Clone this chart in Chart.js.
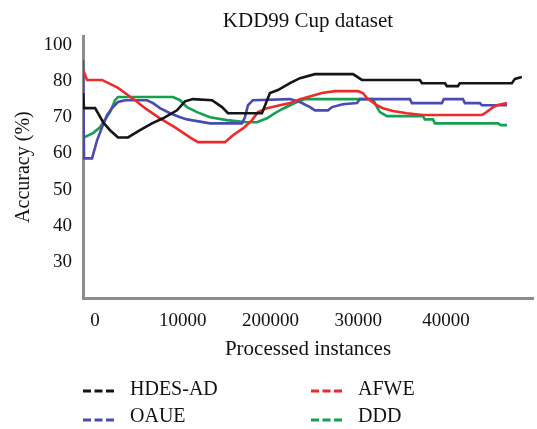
<!DOCTYPE html>
<html>
<head>
<meta charset="utf-8">
<script src="https://cdn.jsdelivr.net/npm/chart.js@4.4.1/dist/chart.umd.min.js"></script>
<style>
  html, body { margin: 0; padding: 0; background: #fff; }
  #chart { display: block; }
</style>
</head>
<body>
<canvas id="chart" width="537" height="429"></canvas>
<script>
// series
const seriesNames = ['HDES-AD', 'AFWE', 'OAUE', 'DDD'];
const seriesColors = ['#151515', '#ee2b2b', '#4a4ab2', '#14a050'];

// x axis ticks (the "200000" is how the original figure prints it)
const xTickValues = [0, 10000, 20000, 30000, 40000];
const xTickLabels = ['0', '10000', '200000', '30000', '40000'];

// y axis ticks: position on the axis -> printed label (top label reads 100)
const yTickValues = [30, 40, 50, 60, 70, 80, 90];
const yTickLabels = ['30', '40', '50', '60', '70', '80', '100'];

// HDES-AD
const hdesX = [-1370, -1250, 10, 920, 1710, 2620, 3760, 5130, 6490, 7750, 9340, 10250, 11160, 13330, 14470, 15150, 19020, 19930, 20840, 22210, 23350, 25060, 29390, 30410, 37010, 37250, 39860, 40090, 41340, 41570, 47490, 47840, 48630];
const hdesY = [76.7, 72.5, 72.5, 68.6, 66.4, 64.4, 64.4, 66.4, 68.3, 69.7, 71.9, 74.4, 75.0, 74.7, 72.8, 71.1, 71.1, 76.7, 77.5, 79.4, 80.8, 81.9, 81.9, 80.3, 80.3, 79.4, 79.4, 78.6, 78.6, 79.4, 79.4, 80.6, 81.1];

// AFWE
const afweX = [-1370, -910, 800, 1710, 2620, 3420, 4560, 5700, 7400, 9120, 10820, 11730, 14810, 15720, 16860, 17890, 18560, 19590, 21070, 22210, 23350, 24260, 25850, 27330, 29960, 30520, 30980, 32120, 32800, 33940, 35530, 37350, 44070, 44420, 45210, 45780, 46930];
const afweY = [83.1, 80.3, 80.3, 79.2, 78.1, 76.7, 74.7, 72.5, 69.7, 67.2, 64.4, 63.1, 63.1, 65.0, 66.9, 69.2, 71.4, 72.5, 73.3, 73.9, 75.0, 75.6, 76.7, 77.2, 77.2, 76.7, 75.3, 73.3, 72.5, 71.7, 71.1, 70.6, 70.6, 71.1, 72.5, 73.3, 73.9];

// OAUE
const oaueX = [-1370, -1250, -340, 230, 800, 1370, 1940, 2620, 3420, 5920, 6610, 7400, 8550, 9690, 10480, 13100, 16740, 17080, 17430, 17990, 22210, 23350, 24490, 25060, 26540, 27000, 28240, 29840, 30180, 35870, 36100, 39520, 39740, 41910, 42140, 43850, 44070, 46930];
const oaueY = [85.8, 58.6, 58.6, 63.6, 67.2, 70.6, 72.5, 74.2, 74.7, 74.7, 73.9, 72.5, 71.1, 70.0, 69.4, 68.3, 68.3, 70.0, 73.3, 74.7, 75.0, 74.2, 72.8, 71.9, 71.9, 72.8, 73.6, 73.9, 75.0, 75.0, 73.9, 73.9, 75.0, 75.0, 73.9, 73.9, 73.3, 73.3];

// DDD
const dddX = [-1370, -1250, -230, 570, 1710, 2280, 2620, 8880, 9690, 10480, 11620, 13100, 15030, 17320, 18450, 19590, 20500, 21300, 22210, 23010, 23920, 31660, 32120, 32460, 33260, 37350, 37590, 38500, 38730, 45900, 46240, 46930];
const dddY = [62.2, 64.4, 65.6, 67.2, 71.4, 74.7, 75.6, 75.6, 74.7, 72.8, 71.4, 70.0, 69.2, 68.6, 68.6, 69.7, 71.1, 72.2, 73.3, 74.2, 75.0, 75.0, 72.8, 71.4, 70.3, 70.3, 69.4, 69.4, 68.3, 68.3, 67.8, 67.8];

const allX = [hdesX, afweX, oaueX, dddX];
const allY = [hdesY, afweY, oaueY, dddY];

const FONT = '"Liberation Serif", "Times New Roman", serif';
const AXIS_GRAY = '#8e8e8e';

function toPoints(xs, ys) {
    return xs.map((x, i) => ({ x: x, y: ys[i] }));
}

const datasets = seriesNames.map((name, i) => ({
    label: name,
    data: toPoints(allX[i], allY[i]),
    borderColor: seriesColors[i],
    backgroundColor: seriesColors[i],
    borderWidth: 2.6,
    pointRadius: 0,
    tension: 0,
    fill: false
}));

// two-column key under the plot, drawn from the datasets
const keyCols = [{ dash: 83, text: 130 }, { dash: 311, text: 358 }];
const keyRows = [{ text: 390, dash: 391 }, { text: 417, dash: 420 }];

const seriesKey = {
    id: 'seriesKey',
    afterDraw(chart) {
        const ctx = chart.ctx;
        ctx.save();
        ctx.font = '20px ' + FONT;
        ctx.textBaseline = 'middle';
        ctx.textAlign = 'left';
        chart.data.datasets.forEach((ds, i) => {
            const col = keyCols[i % 2];
            const row = keyRows[Math.floor(i / 2)];
            ctx.strokeStyle = ds.borderColor;
            ctx.lineWidth = 3;
            ctx.setLineDash([8, 3.5]);
            ctx.beginPath();
            ctx.moveTo(col.dash, row.dash);
            ctx.lineTo(col.dash + 31, row.dash);
            ctx.stroke();
            ctx.setLineDash([]);
            ctx.fillStyle = '#111';
            ctx.fillText(ds.label, col.text, row.text);
        });
        ctx.restore();
    }
};

new Chart(document.getElementById('chart').getContext('2d'), {
    type: 'line',
    data: { datasets: datasets },
    plugins: [seriesKey],
    options: {
        responsive: false,
        animation: false,
        devicePixelRatio: 1,
        layout: { padding: { left: 7, right: 4, top: 0, bottom: 66 } },
        plugins: {
            legend: { display: false },
            tooltip: { enabled: false },
            title: {
                display: true,
                text: 'KDD99 Cup dataset',
                fullSize: false,
                color: '#111',
                font: { family: FONT, size: 21, weight: 'normal' },
                padding: { top: 9, bottom: 2 }
            }
        },
        scales: {
            x: {
                type: 'linear',
                min: -1370,
                max: 49900,
                grid: { display: false },
                border: { display: true, color: AXIS_GRAY, width: 3 },
                afterBuildTicks: (scale) => { scale.ticks = xTickValues.map(v => ({ value: v })); },
                afterFit: (scale) => { scale.height = 65; },
                ticks: {
                    color: '#111',
                    padding: 4,
                    maxRotation: 0,
                    font: { family: FONT, size: 19 },
                    callback: (v) => {
                        const k = xTickValues.indexOf(v);
                        return k >= 0 ? xTickLabels[k] : '';
                    }
                },
                title: {
                    display: true,
                    text: 'Processed instances',
                    color: '#111',
                    font: { family: FONT, size: 21 },
                    padding: { top: 2, bottom: 1 }
                }
            },
            y: {
                type: 'linear',
                min: 20,
                max: 92.4,
                grid: { display: false },
                border: { display: true, color: AXIS_GRAY, width: 3 },
                afterBuildTicks: (scale) => { scale.ticks = yTickValues.map(v => ({ value: v })); },
                afterFit: (scale) => { scale.width = 76; },
                ticks: {
                    color: '#111',
                    font: { family: FONT, size: 19 },
                    callback: (v) => {
                        const k = yTickValues.indexOf(v);
                        return k >= 0 ? yTickLabels[k] : '';
                    }
                },
                title: {
                    display: true,
                    text: 'Accuracy (%)',
                    color: '#111',
                    font: { family: FONT, size: 20 },
                    padding: { top: 5, bottom: 4 }
                }
            }
        }
    }
});
</script>
</body>
</html>
